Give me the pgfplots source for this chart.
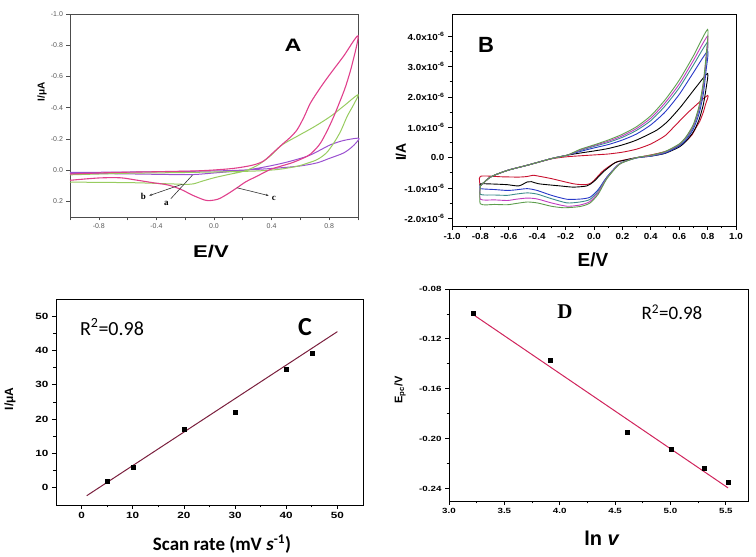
\documentclass[border=0pt]{standalone}
\usepackage{pgfplots}
\pgfplotsset{compat=1.18}
\usepackage{fontspec}
\setmainfont{Liberation Sans}
\newfontfamily\wide[FakeStretch=1.3]{Liberation Sans}
\newfontfamily\wideb[FakeStretch=1.12]{Liberation Sans}
\newfontfamily\carl{Carlito}
\newfontfamily\tms{Liberation Serif}
\usetikzlibrary{arrows.meta}
\definecolor{apink}{HTML}{E0408C}
\definecolor{agreen}{HTML}{98CC60}
\definecolor{apurple}{HTML}{9A50D0}
\definecolor{bred}{HTML}{C8102E}
\definecolor{bblue}{HTML}{2838C8}
\definecolor{bteal}{HTML}{3C8C8C}
\definecolor{bmag}{HTML}{C03CC0}
\definecolor{bgreen}{HTML}{5E9E4E}
\definecolor{cline}{HTML}{7A1F3D}
\definecolor{dline}{HTML}{D0245C}
\begin{document}
\begin{tikzpicture}
\useasboundingbox (0pt,0pt) rectangle (756pt,557pt);
% ---------------- Panel A
\begin{axis}[at={(70pt,340pt)}, anchor=south west, scale only axis, width=288pt, height=203pt,
 xmin=-1, xmax=1, ymin=-1, ymax=0.3, y dir=reverse,
 xtick={-0.8,-0.4,0,0.4,0.8}, minor xtick={-1,-0.6,-0.2,0.2,0.6,1},
 ytick={-1,-0.8,-0.6,-0.4,-0.2,0,0.2},
 tick align=outside, xtick pos=bottom, ytick pos=left,
 major tick length=3.5pt, minor tick length=3.5pt,
 axis line style={gray!60!black, line width=0.8pt},
 every tick/.style={gray!60!black, line width=0.6pt},
 /pgf/number format/fixed, /pgf/number format/fixed zerofill, /pgf/number format/precision=1,
 /pgf/number format/assume math mode=true,
 tick label style={font=\fontsize{7}{8}\selectfont, text=gray!70!black},
 clip=false]
\addplot[apurple, line width=1pt, smooth, tension=0.5] coordinates {
(-1.0,0.02) (-0.6,0.024) (-0.3,0.028) (-0.14,0.028) (0.0,0.018) (0.2,0.002) (0.35,-0.02) (0.5,-0.05) (0.647,-0.089) (0.73,-0.125) (0.81,-0.163) (0.9,-0.19) (1.0,-0.205)
(1.0,-0.19) (0.96,-0.15) (0.9,-0.11) (0.8,-0.075) (0.717,-0.047) (0.6,-0.027) (0.462,-0.015) (0.3,-0.005) (0.1,0.003) (-0.2,0.008) (-0.6,0.012) (-1.0,0.015)};
\addplot[agreen, line width=1pt, smooth, tension=0.5] coordinates {
(-1.0,0.077) (-0.8,0.078) (-0.53,0.081) (-0.3,0.088) (-0.16,0.09) (-0.08,0.07) (0.0,0.049) (0.1,0.028) (0.21,0.006) (0.3,-0.03) (0.39,-0.09) (0.47,-0.16) (0.578,-0.217) (0.7,-0.28) (0.81,-0.345) (0.9,-0.41) (1.0,-0.483)
(0.97,-0.42) (0.925,-0.345) (0.88,-0.25) (0.832,-0.174) (0.78,-0.11) (0.717,-0.068) (0.65,-0.045) (0.578,-0.025) (0.45,-0.005) (0.3,0.005) (0.1,0.01) (-0.2,0.015) (-0.6,0.02) (-1.0,0.03)};
\addplot[apink, line width=1.1pt, smooth, tension=0.5] coordinates {
(-1.0,0.025) (-0.7,0.015) (-0.4,0.01) (-0.1,0.004) (0.1,-0.008) (0.2,-0.02) (0.28,-0.035) (0.347,-0.06) (0.42,-0.12) (0.485,-0.174) (0.53,-0.21) (0.578,-0.26) (0.625,-0.34) (0.67,-0.43) (0.74,-0.53) (0.81,-0.62) (0.9,-0.73) (1.0,-0.86)
(0.96,-0.68) (0.914,-0.536) (0.87,-0.43) (0.832,-0.344) (0.79,-0.26) (0.74,-0.174) (0.69,-0.12) (0.647,-0.089) (0.55,-0.05) (0.462,-0.025) (0.39,-0.004) (0.3,0.038) (0.22,0.075) (0.16,0.113) (0.09,0.155) (0.03,0.185) (-0.03,0.195) (-0.07,0.19) (-0.15,0.16) (-0.23,0.123) (-0.32,0.095) (-0.42,0.081) (-0.55,0.062) (-0.65,0.049) (-0.8,0.05) (-1.0,0.065)};
\draw[black!80, line width=0.6pt, -{Stealth[length=3pt]}] (axis cs:-0.22,0.09) -- (axis cs:-0.45,0.163);
\draw[black!80, line width=0.6pt] (axis cs:-0.15,0.032) -- (axis cs:-0.30,0.183);
\draw[black!80, line width=0.6pt, -{Stealth[length=3pt]}] (axis cs:0.16,0.113) -- (axis cs:0.38,0.163);
\node[font=\tms\bfseries\fontsize{9}{10}\selectfont] at (axis cs:-0.49,0.168) {b};
\node[font=\tms\bfseries\fontsize{9}{10}\selectfont] at (axis cs:-0.33,0.215) {a};
\node[font=\tms\bfseries\fontsize{9}{10}\selectfont] at (axis cs:0.415,0.178) {c};
\end{axis}
\node[font=\wide\bfseries\fontsize{18}{20}\selectfont] at (293pt,512pt) {A};
\node[rotate=90, font=\bfseries\fontsize{10}{11}\selectfont] at (42pt,465pt) {I/μA};
\node[font=\wide\bfseries\fontsize{17}{19}\selectfont] at (211pt,305pt) {E/V};
% ---------------- Panel B
\begin{axis}[at={(452pt,331pt)}, anchor=south west, scale only axis, width=284pt, height=212pt,
 xmin=-1, xmax=1, ymin=-2.25, ymax=4.73,
 xtick={-1,-0.8,-0.6,-0.4,-0.2,0,0.2,0.4,0.6,0.8,1}, minor x tick num=1,
 ytick={-2,-1,0,1,2,3,4}, minor y tick num=1,
 yticklabels={-2.0x10\textsuperscript{-6},-1.0x10\textsuperscript{-6},0.0,1.0x10\textsuperscript{-6},2.0x10\textsuperscript{-6},3.0x10\textsuperscript{-6},4.0x10\textsuperscript{-6}},
 tick align=outside, xtick pos=bottom, ytick pos=left,
 major tick length=4pt, minor tick length=2.5pt,
 axis line style={black, line width=0.8pt},
 every tick/.style={black, line width=0.7pt},
 /pgf/number format/fixed, /pgf/number format/fixed zerofill, /pgf/number format/precision=1,
 /pgf/number format/assume math mode=true,
 tick label style={font=\wideb\bfseries\fontsize{8.8}{10}\selectfont}]
\addplot[bred, line width=0.9pt, smooth, tension=0.4] coordinates {
(-0.8,-0.93) (-0.73,-0.64) (-0.61,-0.42) (-0.47,-0.25) (-0.3,-0.04) (-0.19,0.03) (-0.1,0.06) (0,0.09) (0.1,0.12) (0.2,0.18) (0.3,0.28) (0.4,0.45) (0.5,0.72) (0.56,1.0) (0.665,1.5) (0.8,2.05)
(0.785,1.75) (0.77,1.5) (0.745,1.2) (0.72,1.0) (0.69,0.75) (0.653,0.57) (0.6,0.4) (0.56,0.3) (0.5,0.2) (0.44,0.13) (0.39,0.08) (0.3,0.0)
(0.16,-0.14) (0.067,-0.42) (0.0,-0.75) (-0.03,-0.86) (-0.07,-0.89) (-0.145,-0.86) (-0.3,-0.69) (-0.4,-0.6) (-0.43,-0.58) (-0.47,-0.62) (-0.53,-0.64) (-0.65,-0.63) (-0.8,-0.615) (-0.8,-0.93)};
\addplot[black, line width=0.9pt, smooth, tension=0.4] coordinates {
(-0.8,-0.93) (-0.73,-0.64) (-0.61,-0.42) (-0.47,-0.25) (-0.3,-0.03) (-0.19,0.08) (-0.1,0.15) (0,0.22) (0.1,0.3) (0.2,0.42) (0.3,0.58) (0.44,0.9) (0.52,1.2) (0.61,1.67) (0.72,2.33) (0.8,2.77)
(0.79,2.3) (0.77,1.75) (0.74,1.25) (0.7,0.85) (0.65,0.55) (0.6,0.35) (0.5,0.14) (0.4,0.05) (0.3,0.0)
(0.2,-0.1) (0.15,-0.16) (0.07,-0.45) (0.0,-0.78) (-0.05,-0.93) (-0.145,-0.97) (-0.24,-0.93) (-0.39,-0.86) (-0.44,-0.79) (-0.47,-0.8) (-0.53,-0.93) (-0.61,-0.89) (-0.7,-0.87) (-0.8,-0.86) (-0.8,-0.93)};
\addplot[bblue, line width=0.9pt, smooth, tension=0.4] coordinates {
(-0.8,-0.93) (-0.73,-0.64) (-0.61,-0.42) (-0.47,-0.25) (-0.3,-0.03) (-0.19,0.08) (-0.1,0.2) (0,0.32) (0.1,0.43) (0.2,0.58) (0.3,0.78) (0.4,1.08) (0.5,1.5) (0.6,2.08) (0.7,2.8) (0.8,3.5)
(0.79,2.9) (0.77,2.1) (0.74,1.45) (0.7,0.95) (0.65,0.6) (0.6,0.38) (0.5,0.15) (0.4,0.05) (0.3,-0.01)
(0.18,-0.2) (0.09,-0.64) (0.03,-1.05) (-0.027,-1.3) (-0.09,-1.36) (-0.19,-1.37) (-0.3,-1.24) (-0.4,-1.08) (-0.47,-1.02) (-0.55,-1.06) (-0.61,-1.08) (-0.7,-1.05) (-0.8,-1.02) (-0.8,-0.93)};
\addplot[bteal, line width=0.9pt, smooth, tension=0.4] coordinates {
(-0.8,-0.93) (-0.73,-0.64) (-0.61,-0.42) (-0.47,-0.25) (-0.3,-0.03) (-0.19,0.08) (-0.1,0.23) (0,0.37) (0.1,0.5) (0.2,0.67) (0.3,0.9) (0.4,1.22) (0.5,1.7) (0.6,2.3) (0.7,3.05) (0.8,3.8)
(0.79,3.15) (0.77,2.3) (0.74,1.58) (0.7,1.02) (0.65,0.65) (0.6,0.42) (0.5,0.18) (0.4,0.06) (0.3,0.0)
(0.18,-0.2) (0.09,-0.66) (0.03,-1.1) (-0.03,-1.38) (-0.1,-1.46) (-0.19,-1.49) (-0.3,-1.35) (-0.4,-1.2) (-0.47,-1.16) (-0.55,-1.2) (-0.61,-1.24) (-0.7,-1.23) (-0.8,-1.21) (-0.8,-0.93)};
\addplot[bmag, line width=0.9pt, smooth, tension=0.4] coordinates {
(-0.8,-0.93) (-0.73,-0.64) (-0.61,-0.42) (-0.47,-0.25) (-0.3,-0.03) (-0.19,0.08) (-0.1,0.25) (0,0.4) (0.1,0.54) (0.2,0.72) (0.3,0.96) (0.4,1.3) (0.5,1.8) (0.6,2.42) (0.7,3.2) (0.8,4.0)
(0.79,3.3) (0.77,2.4) (0.74,1.65) (0.7,1.06) (0.65,0.68) (0.6,0.44) (0.5,0.19) (0.4,0.07) (0.3,0.0)
(0.18,-0.21) (0.09,-0.68) (0.03,-1.15) (-0.03,-1.45) (-0.1,-1.56) (-0.19,-1.6) (-0.3,-1.49) (-0.4,-1.36) (-0.47,-1.33) (-0.55,-1.37) (-0.61,-1.41) (-0.7,-1.39) (-0.8,-1.37) (-0.8,-0.93)};
\addplot[bgreen, line width=0.9pt, smooth, tension=0.4] coordinates {
(-0.8,-0.93) (-0.73,-0.64) (-0.61,-0.42) (-0.47,-0.25) (-0.3,-0.03) (-0.19,0.08) (-0.1,0.27) (0,0.42) (0.1,0.58) (0.2,0.77) (0.3,1.02) (0.4,1.38) (0.5,1.9) (0.6,2.55) (0.7,3.35) (0.8,4.22)
(0.79,3.4) (0.77,2.5) (0.74,1.7) (0.7,1.1) (0.65,0.7) (0.6,0.45) (0.5,0.2) (0.4,0.08) (0.3,0.0)
(0.18,-0.22) (0.09,-0.7) (0.03,-1.2) (-0.03,-1.5) (-0.1,-1.61) (-0.21,-1.65) (-0.3,-1.6) (-0.4,-1.49) (-0.47,-1.46) (-0.55,-1.51) (-0.61,-1.55) (-0.7,-1.54) (-0.8,-1.52) (-0.8,-0.93)};
\end{axis}
\node[font=\bfseries\fontsize{22}{24}\selectfont] at (486pt,512pt) {B};
\node[rotate=90, font=\bfseries\fontsize{14}{16}\selectfont] at (401pt,405pt) {I/A};
\node[font=\bfseries\fontsize{19}{21}\selectfont] at (593pt,297pt) {E/V};
% ---------------- Panel C
\begin{axis}[at={(56pt,52pt)}, anchor=south west, scale only axis, width=307pt, height=206pt,
 xmin=-5, xmax=55, ymin=-5, ymax=55,
 xtick={0,10,20,30,40,50}, minor x tick num=1,
 ytick={0,10,20,30,40,50}, minor y tick num=1,
 tick align=outside, xtick pos=bottom, ytick pos=left,
 major tick length=4pt, minor tick length=2.5pt,
 axis line style={black, line width=0.9pt},
 every tick/.style={black, line width=0.8pt},
 /pgf/number format/assume math mode=true,
 tick label style={font=\wide\bfseries\fontsize{9}{10}\selectfont}]
\addplot[cline, line width=1pt] coordinates {(1,-2.3) (50,45.5)};
\addplot[only marks, mark=square*, mark size=2pt, black] coordinates {
(5,1.8) (10,5.9) (20,17.1) (30,22.1) (40,34.6) (45,39.2)};
\end{axis}
\node[font=\carl\fontsize{20}{22}\selectfont] at (112pt,230pt) {R\textsuperscript{2}=0.98};
\node[font=\carl\bfseries\fontsize{26}{28}\selectfont] at (305pt,230pt) {C};
\node[rotate=90, font=\bfseries\fontsize{12}{14}\selectfont] at (10pt,158pt) {I/μA};
\node[font=\carl\bfseries\fontsize{19}{21}\selectfont] at (222pt,13pt) {Scan rate (mV \textit{s}\textsuperscript{-1})};
% ---------------- Panel D
\begin{axis}[at={(449pt,56pt)}, anchor=south west, scale only axis, width=299pt, height=212pt,
 xmin=3, xmax=5.7, ymin=-0.25, ymax=-0.08,
 xtick={3,3.5,4,4.5,5,5.5}, minor x tick num=1,
 ytick={-0.24,-0.2,-0.16,-0.12,-0.08}, minor y tick num=1,
 tick align=outside, xtick pos=bottom, ytick pos=left,
 major tick length=4pt, minor tick length=2.5pt,
 axis line style={black, line width=0.9pt},
 every tick/.style={black, line width=0.8pt},
 /pgf/number format/fixed, /pgf/number format/fixed zerofill,
 /pgf/number format/assume math mode=true,
 xticklabel style={/pgf/number format/precision=1},
 yticklabel style={/pgf/number format/precision=2},
 tick label style={font=\wide\bfseries\fontsize{7.5}{9}\selectfont}]
\addplot[dline, line width=1pt] coordinates {(3.21,-0.1) (5.52,-0.2395)};
\addplot[only marks, mark=square*, mark size=2pt, black] coordinates {
(3.22,-0.0995) (3.91,-0.1373) (4.605,-0.195) (5.01,-0.2088) (5.30,-0.2237) (5.52,-0.2347)};
\end{axis}
\node[font=\tms\bfseries\fontsize{21}{23}\selectfont] at (565pt,245pt) {D};
\node[font=\carl\fontsize{19}{21}\selectfont] at (672pt,245pt) {R\textsuperscript{2}=0.98};
\node[rotate=90, font=\bfseries\fontsize{11}{13}\selectfont] at (400pt,167pt) {E\textsubscript{pc}/V};
\node[font=\bfseries\fontsize{20}{22}\selectfont] at (602pt,19pt) {ln \textit{v}};
\end{tikzpicture}
\end{document}
